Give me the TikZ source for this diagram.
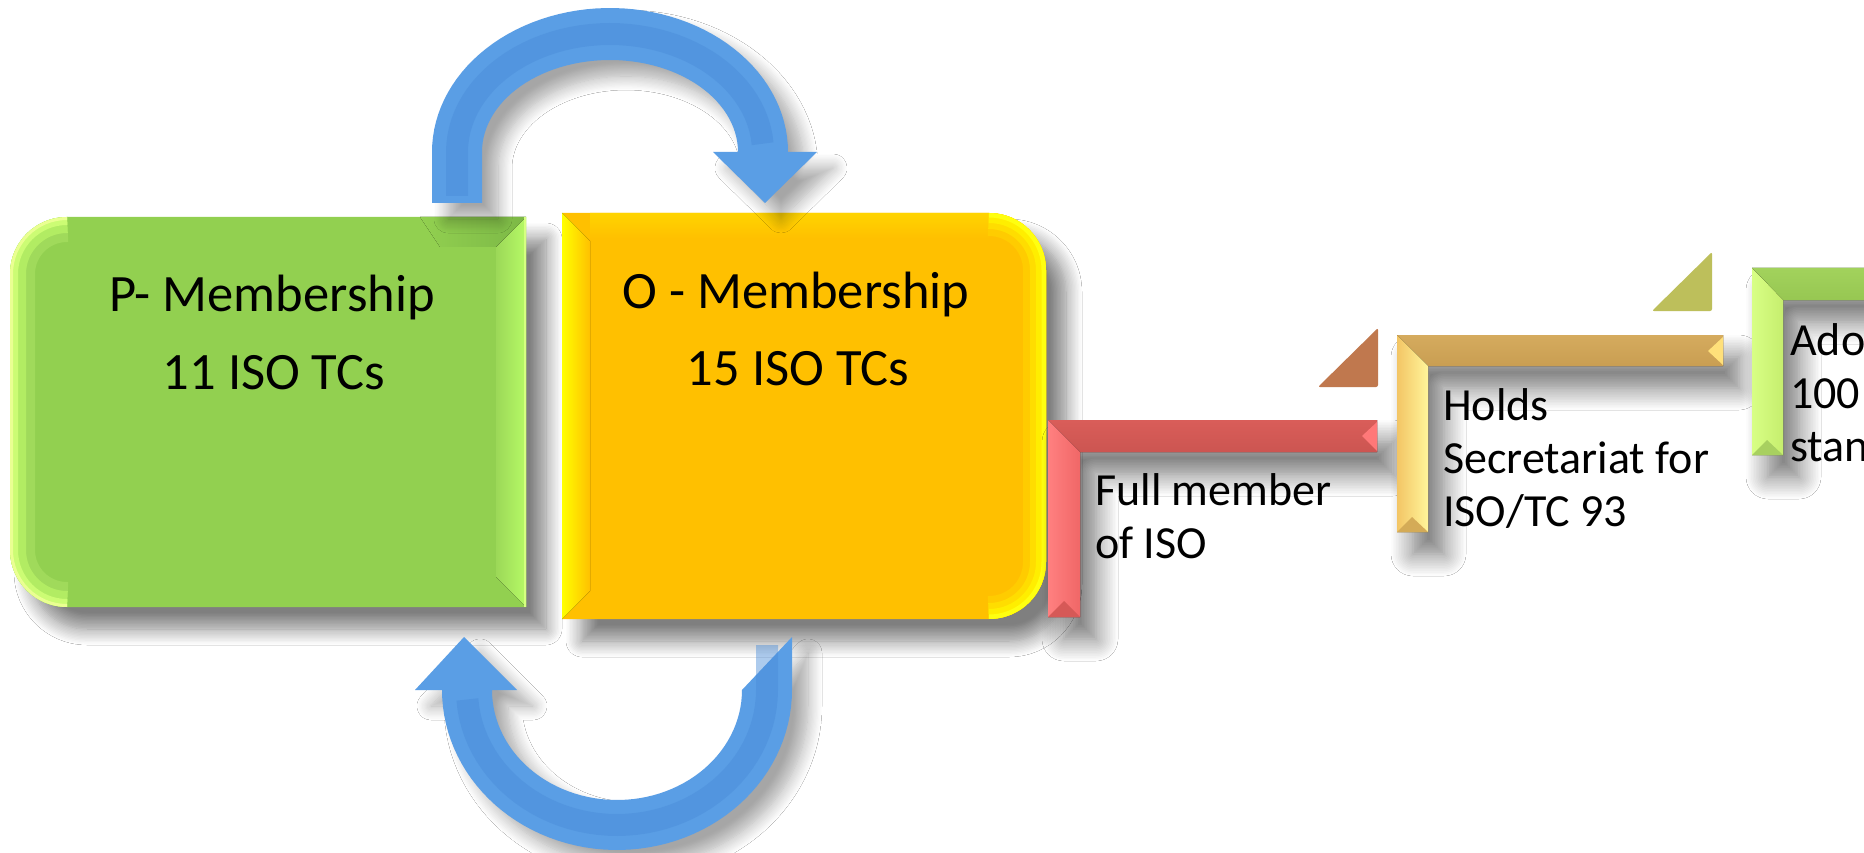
\documentclass[tikz,border=0pt]{standalone}
\usepackage{fontspec}
\setmainfont{Carlito}
\usetikzlibrary{shadows.blur}
\definecolor{gmain}{HTML}{92D050}
\definecolor{gdark}{HTML}{7CB846}
\definecolor{gstripl}{HTML}{9CD858}
\definecolor{gstripr}{HTML}{B6FA66}
\definecolor{gedge}{HTML}{D6FF80}
\definecolor{omain}{HTML}{FFC000}
\definecolor{otop}{HTML}{FFD400}
\definecolor{oyel}{HTML}{FFFF00}
\definecolor{arrowblue}{HTML}{5A9EE5}
\definecolor{arrowcore}{HTML}{4A8CD8}
\definecolor{redh}{HTML}{CC5551}
\definecolor{redhl}{HTML}{D95D59}
\definecolor{redvl}{HTML}{FF8080}
\definecolor{redvr}{HTML}{F06767}
\definecolor{redbev}{HTML}{D65957}
\definecolor{redend}{HTML}{FF7878}
\definecolor{goldh}{HTML}{C99E52}
\definecolor{goldhl}{HTML}{D5AB5E}
\definecolor{goldvl}{HTML}{F3C565}
\definecolor{goldvr}{HTML}{FFF59A}
\definecolor{goldbev}{HTML}{D4AB57}
\definecolor{goldend}{HTML}{FFE07A}
\definecolor{grnh}{HTML}{97C752}
\definecolor{grnhl}{HTML}{A2D25C}
\definecolor{grnvl}{HTML}{D8FF85}
\definecolor{grnvr}{HTML}{C6EE6E}
\definecolor{grnbev}{HTML}{A8D060}
\definecolor{brtri}{HTML}{C0784E}
\definecolor{oltri}{HTML}{BDBF5B}
\begin{document}
\begin{tikzpicture}[x=1pt,y=-1pt,
  boxshadow/.style={blur shadow={shadow xshift=20pt,shadow yshift=-22pt,shadow blur radius=16pt,shadow blur steps=12,shadow opacity=50}},
  arrowshadow/.style={blur shadow={shadow xshift=16pt,shadow yshift=-16pt,shadow blur radius=14pt,shadow blur steps=12,shadow opacity=35}},
  stepshadow/.style={blur shadow={shadow xshift=16pt,shadow yshift=-22pt,shadow blur radius=22pt,shadow blur steps=14,shadow opacity=55}},
  bigtext/.style={font=\fontsize{52.5}{63}\selectfont,inner sep=0pt,anchor=base},
  steptext/.style={font=\fontsize{46}{55}\selectfont,inner sep=0pt,anchor=base west},
  arrowfill/.style={fill=arrowblue},
  arrowtube/.style={draw=arrowcore,line width=22pt,draw opacity=0.45}]
\useasboundingbox[fill=white] (0,0) rectangle (1864,853);

% ---------- green box (P-Membership)
\path[fill=gmain,boxshadow] (526,217) -- (67,217) .. controls (35.5,217) and (10,242.5) .. (10,274)
  -- (10,550) .. controls (10,581.5) and (35.5,607) .. (67,607) -- (526,607) -- cycle;
\begin{scope}
  \clip (526,217) -- (67,217) .. controls (35.5,217) and (10,242.5) .. (10,274)
    -- (10,550) .. controls (10,581.5) and (35.5,607) .. (67,607) -- (526,607) -- cycle;
  \foreach \w/\c in {50/A0DA5B,32/B2EC63,16/CCFC74,6/EAFF92}{
    \definecolor{tmpc}{HTML}{\c}
    \draw[line width=\w pt,color=tmpc] (67,217) .. controls (35.5,217) and (10,242.5) .. (10,274)
      -- (10,550) .. controls (10,581.5) and (35.5,607) .. (67,607);}
  \fill[left color=gmain,right color=gdark] (420,217) -- (526,217) -- (496,247) -- (440,247) -- cycle;
  \fill[left color=gstripl,right color=gstripr] (496,247) -- (526,217) -- (526,607) -- (496,577) -- cycle;
  \draw[line width=5pt,color=gedge] (526,217) -- (526,607);
\end{scope}

% ---------- orange box (O-Membership)
\path[fill=omain,boxshadow] (562,213) -- (989,213) .. controls (1020.5,213) and (1046,238.5) .. (1046,270)
  -- (1046,562) .. controls (1046,593.5) and (1020.5,619) .. (989,619) -- (562,619) -- cycle;
\begin{scope}
  \clip (562,213) -- (989,213) .. controls (1020.5,213) and (1046,238.5) .. (1046,270)
    -- (1046,562) .. controls (1046,593.5) and (1020.5,619) .. (989,619) -- (562,619) -- cycle;
  \fill[top color=otop,bottom color=omain] (590,213) -- (989,213) -- (989,238) -- (590,238) -- cycle;
  \foreach \w/\c in {46/FFCC00,32/FFDD00,20/FFEE00,9/FFFF10}{
    \definecolor{tmpc}{HTML}{\c}
    \draw[line width=\w pt,color=tmpc] (989,213) .. controls (1020.5,213) and (1046,238.5) .. (1046,270)
      -- (1046,562) .. controls (1046,593.5) and (1020.5,619) .. (989,619);}
  \fill[left color=oyel,right color=omain] (562,213) -- (590,241) -- (590,591) -- (562,619) -- cycle;
\end{scope}

% ---------- texts in boxes
\node[bigtext] (ptitle) at (272,311) {P- Membership};
\node[bigtext] (pcount) at (274,389) {11 ISO TCs};
\node[bigtext] (otitle) at (796,308) {O - Membership};
\node[bigtext] (ocount) at (798,385) {15 ISO TCs};

% ---------- top curved arrow (P -> O)
\path[arrowfill,arrowshadow] (432,203) -- (432,152)
  -- plot[domain=180:360,samples=60] ({610+178*cos(\x)},{152+144*sin(\x)})
  -- (817,152) -- (765,203) -- (713,152)
  -- plot[domain=360:180,samples=60] ({610+128*cos(\x)},{152+92*sin(\x)})
  -- (482,203) -- cycle;
\path[arrowtube] (457,196) -- (457,152)
  -- plot[domain=180:356,samples=50] ({610+153*cos(\x)},{152+118*sin(\x)});

% ---------- bottom curved arrow (O -> P)
\path[arrowfill,arrowshadow] (792,637) -- (792,690)
  -- plot[domain=0:180,samples=60] ({617+175*cos(\x)},{690+160*sin(\x)})
  -- (415,690) -- (464,637) -- (517,690)
  -- plot[domain=180:0,samples=60] ({617+125*cos(\x)},{690+110*sin(\x)})
  -- (742,690) -- cycle;
\path[arrowtube] (767,645) -- (767,690)
  -- plot[domain=0:176,samples=50] ({617+150*cos(\x)},{690+135*sin(\x)});

% ---------- step 1 (red)
\path[fill=redh,stepshadow] (1048,420) -- (1377,420) -- (1377,452) -- (1080,452) -- (1080,617) -- (1048,617) -- cycle;
\fill[top color=redhl,bottom color=redh] (1048,420) -- (1377,420) -- (1377,452) -- (1080,452) -- cycle;
\fill[left color=redvl,right color=redvr] (1048,420) -- (1080,452) -- (1080,617) -- (1048,617) -- cycle;
\fill[redbev] (1048,617) -- (1064,601) -- (1080,617) -- cycle;
\fill[redend] (1377,422) -- (1362,436) -- (1377,451) -- cycle;
\fill[brtri,rounded corners=2pt] (1318,387) -- (1378,328) -- (1378,387) -- cycle;
\node[steptext] (full1) at (1095,505) {Full member};
\node[steptext] (full2) at (1095,558) {of ISO};

% ---------- step 2 (gold)
\path[fill=goldh,stepshadow] (1397,335) -- (1723,335) -- (1723,366) -- (1428,366) -- (1428,532) -- (1397,532) -- cycle;
\fill[top color=goldhl,bottom color=goldh] (1397,335) -- (1723,335) -- (1723,366) -- (1428,366) -- cycle;
\fill[left color=goldvl,right color=goldvr] (1397,335) -- (1428,366) -- (1428,532) -- (1397,532) -- cycle;
\fill[goldbev] (1397,532) -- (1412,517) -- (1428,532) -- cycle;
\fill[goldend] (1723,337) -- (1708,351) -- (1723,365) -- cycle;
\fill[oltri,rounded corners=2pt] (1652,311) -- (1712,252) -- (1712,311) -- cycle;
\node[steptext] (holds1) at (1443,420) {Holds};
\node[steptext] (holds2) at (1443,473) {Secretariat for};
\node[steptext] (holds3) at (1443,526) {ISO/TC 93};

% ---------- step 3 (green)
\path[fill=grnh,stepshadow] (1752,268) -- (1880,268) -- (1880,300) -- (1783,300) -- (1783,455) -- (1752,455) -- cycle;
\fill[top color=grnhl,bottom color=grnh] (1752,268) -- (1880,268) -- (1880,300) -- (1783,300) -- cycle;
\fill[left color=grnvl,right color=grnvr] (1752,268) -- (1783,300) -- (1783,455) -- (1752,455) -- cycle;
\fill[grnbev] (1752,455) -- (1767,440) -- (1783,455) -- cycle;
\node[steptext] (ado1) at (1790,355) {Ado};
\node[steptext] (ado2) at (1790,408) {100};
\node[steptext] (ado3) at (1790,461) {stan};
\end{tikzpicture}
\end{document}
